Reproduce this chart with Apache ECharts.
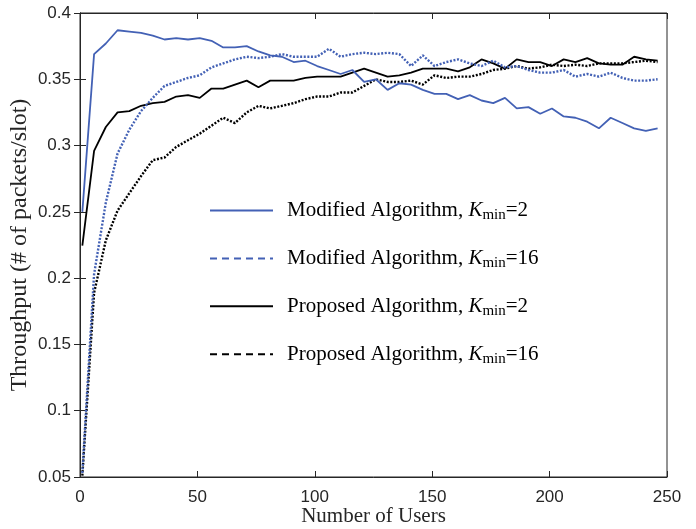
<!DOCTYPE html>
<html>
<head>
<meta charset="utf-8">
<script src="https://cdn.jsdelivr.net/npm/echarts@6/dist/echarts.min.js"></script>
<style>
  html, body { margin: 0; padding: 0; background: #fff; }
  #chart { width: 696px; height: 529px; }
</style>
</head>
<body>
<div id="chart"></div>
<script>
// Number of users at each simulated point
const users = [1, 6, 11, 16, 21, 26, 31, 36, 41, 46,
  51, 56, 61, 66, 71, 76, 81, 86, 91, 96,
  101, 106, 111, 116, 121, 126, 131, 136, 141, 146,
  151, 156, 161, 166, 171, 176, 181, 186, 191, 196,
  201, 206, 211, 216, 221, 226, 231, 236, 241, 246];

// Throughput (packets/slot)
const modifiedK2 = [0.250, 0.369, 0.377, 0.387, 0.386, 0.385, 0.383, 0.380, 0.381, 0.380,
  0.381, 0.379, 0.374, 0.374, 0.375, 0.371, 0.368, 0.367, 0.363, 0.364,
  0.360, 0.357, 0.354, 0.357, 0.348, 0.350, 0.342, 0.347, 0.346, 0.342,
  0.339, 0.339, 0.335, 0.338, 0.334, 0.332, 0.336, 0.328, 0.329, 0.324,
  0.328, 0.322, 0.321, 0.318, 0.313, 0.321, 0.317, 0.313, 0.311, 0.313];

const modifiedK16 = [0.053, 0.203, 0.257, 0.294, 0.312, 0.326, 0.336, 0.345, 0.348, 0.351,
  0.353, 0.359, 0.362, 0.365, 0.367, 0.366, 0.367, 0.369, 0.367, 0.367,
  0.367, 0.373, 0.367, 0.369, 0.370, 0.369, 0.370, 0.369, 0.360, 0.368,
  0.360, 0.363, 0.365, 0.362, 0.360, 0.364, 0.359, 0.360, 0.357, 0.355,
  0.355, 0.357, 0.352, 0.354, 0.352, 0.355, 0.351, 0.349, 0.349, 0.350];

const proposedK2 = [0.2245, 0.296, 0.314, 0.325, 0.326, 0.330, 0.332, 0.333, 0.337, 0.338,
  0.336, 0.343, 0.343, 0.346, 0.349, 0.344, 0.349, 0.349, 0.349, 0.351,
  0.352, 0.352, 0.352, 0.355, 0.358, 0.355, 0.352, 0.353, 0.355, 0.358,
  0.358, 0.358, 0.356, 0.359, 0.365, 0.362, 0.358, 0.365, 0.363, 0.363,
  0.360, 0.365, 0.363, 0.366, 0.362, 0.361, 0.361, 0.367, 0.365, 0.364];

const proposedK16 = [0.051, 0.189, 0.2285, 0.251, 0.264, 0.277, 0.289, 0.291, 0.299, 0.304,
  0.309, 0.315, 0.321, 0.317, 0.325, 0.330, 0.328, 0.330, 0.332, 0.335,
  0.337, 0.337, 0.340, 0.340, 0.345, 0.350, 0.348, 0.348, 0.349, 0.346,
  0.353, 0.351, 0.352, 0.352, 0.354, 0.357, 0.358, 0.360, 0.358, 0.359,
  0.361, 0.360, 0.361, 0.360, 0.362, 0.362, 0.362, 0.363, 0.364, 0.363];

// Legend entries: algorithm and K_min
const seriesNames = ['Modified Algorithm', 'Modified Algorithm', 'Proposed Algorithm', 'Proposed Algorithm'];
const kMinValues = ['2', '16', '2', '16'];

const BLUE = '#4361b5';
const BLACK = '#000000';
const AXIS = '#262626';
const SERIF = '"Liberation Serif", "Times New Roman", serif';
const SANS = '"Liberation Sans", Arial, sans-serif';

const pair = (ys) => users.map((u, i) => [u, ys[i]]);
const keyOf = (i) => seriesNames[i] + ', K_min=' + kMinValues[i];

const seriesDefs = [
  { data: modifiedK2, color: BLUE, type: 'solid', width: 1.8 },
  { data: modifiedK16, color: BLUE, type: [2, 1.6], width: 2.4 },
  { data: proposedK2, color: BLACK, type: 'solid', width: 1.8 },
  { data: proposedK16, color: BLACK, type: [2, 1.6], width: 2.4 }
];

const chart = echarts.init(document.getElementById('chart'), null, { renderer: 'canvas' });

const tickStyle = { show: true, inside: true, length: 6, lineStyle: { color: AXIS, width: 1 } };

chart.setOption({
  backgroundColor: '#ffffff',
  animation: false,
  grid: {
    left: 80, right: 29, top: 13, bottom: 52,
    outerBoundsMode: 'none', containLabel: false,
    show: true, borderColor: AXIS, borderWidth: 1, backgroundColor: '#fff'
  },
  xAxis: [
    {
      type: 'value', min: 0, max: 250, interval: 50,
      name: 'Number of Users', nameLocation: 'middle', nameGap: 29, nameMoveOverlap: false,
      nameTextStyle: { fontFamily: SERIF, fontSize: 21, color: AXIS },
      axisLine: { show: true, lineStyle: { color: AXIS, width: 1 } },
      axisTick: tickStyle,
      axisLabel: { fontFamily: SANS, fontSize: 17, color: AXIS, margin: 12 },
      splitLine: { show: false }
    },
    {
      type: 'value', min: 0, max: 250, interval: 50, position: 'top',
      axisLine: { show: true, lineStyle: { color: AXIS, width: 1 } },
      axisTick: tickStyle, axisLabel: { show: false }, splitLine: { show: false }
    }
  ],
  yAxis: [
    {
      type: 'value', min: 0.05, max: 0.4, interval: 0.05,
      name: 'Throughput (# of packets/slot)', nameLocation: 'middle', nameGap: 48, nameMoveOverlap: false,
      nameTextStyle: { fontFamily: SERIF, fontSize: 24, color: AXIS },
      axisLine: { show: true, lineStyle: { color: AXIS, width: 1 } },
      axisTick: tickStyle,
      axisLabel: { fontFamily: SANS, fontSize: 17, color: AXIS, margin: 9,
        formatter: (v) => String(+v.toFixed(2)) },
      splitLine: { show: false }
    },
    {
      type: 'value', min: 0.05, max: 0.4, interval: 0.05, position: 'right',
      axisLine: { show: true, lineStyle: { color: AXIS, width: 1 } },
      axisTick: tickStyle, axisLabel: { show: false }, splitLine: { show: false }
    }
  ],
  legend: {
    show: true,
    orient: 'vertical', left: 204, top: 195,
    itemWidth: 63, itemHeight: 14, itemGap: 25.4,
    data: seriesDefs.map((d, i) => ({
      name: keyOf(i),
      itemStyle: { opacity: 0 },
      lineStyle: { color: d.color, width: 2, type: d.type === 'solid' ? 'solid' : [7, 5] }
    })),
    formatter: (name) => {
      let i = 0;
      for (let j = 0; j < seriesDefs.length; j++) if (keyOf(j) === name) i = j;
      return '{t|' + seriesNames[i] + ', }{k|K}{s|min}{t|=' + kMinValues[i] + '}';
    },
    textStyle: {
      padding: [0, 0, 0, 9],
      rich: {
        t: { fontFamily: SERIF, fontSize: 21, color: '#000', lineHeight: 24, verticalAlign: 'middle' },
        k: { fontFamily: SERIF, fontSize: 21, fontStyle: 'italic', color: '#000', lineHeight: 24, verticalAlign: 'middle' },
        s: { fontFamily: SERIF, fontSize: 15, color: '#000', lineHeight: 10, verticalAlign: 'bottom' }
      }
    }
  },
  series: seriesDefs.map((d, i) => ({
    name: keyOf(i),
    type: 'line',
    xAxisIndex: 0, yAxisIndex: 0,
    data: pair(d.data),
    showSymbol: false, symbol: 'none',
    lineStyle: { color: d.color, width: d.width, type: d.type, cap: 'butt' },
    itemStyle: { color: d.color },
    z: 4 - i
  }))
});
</script>
</body>
</html>
